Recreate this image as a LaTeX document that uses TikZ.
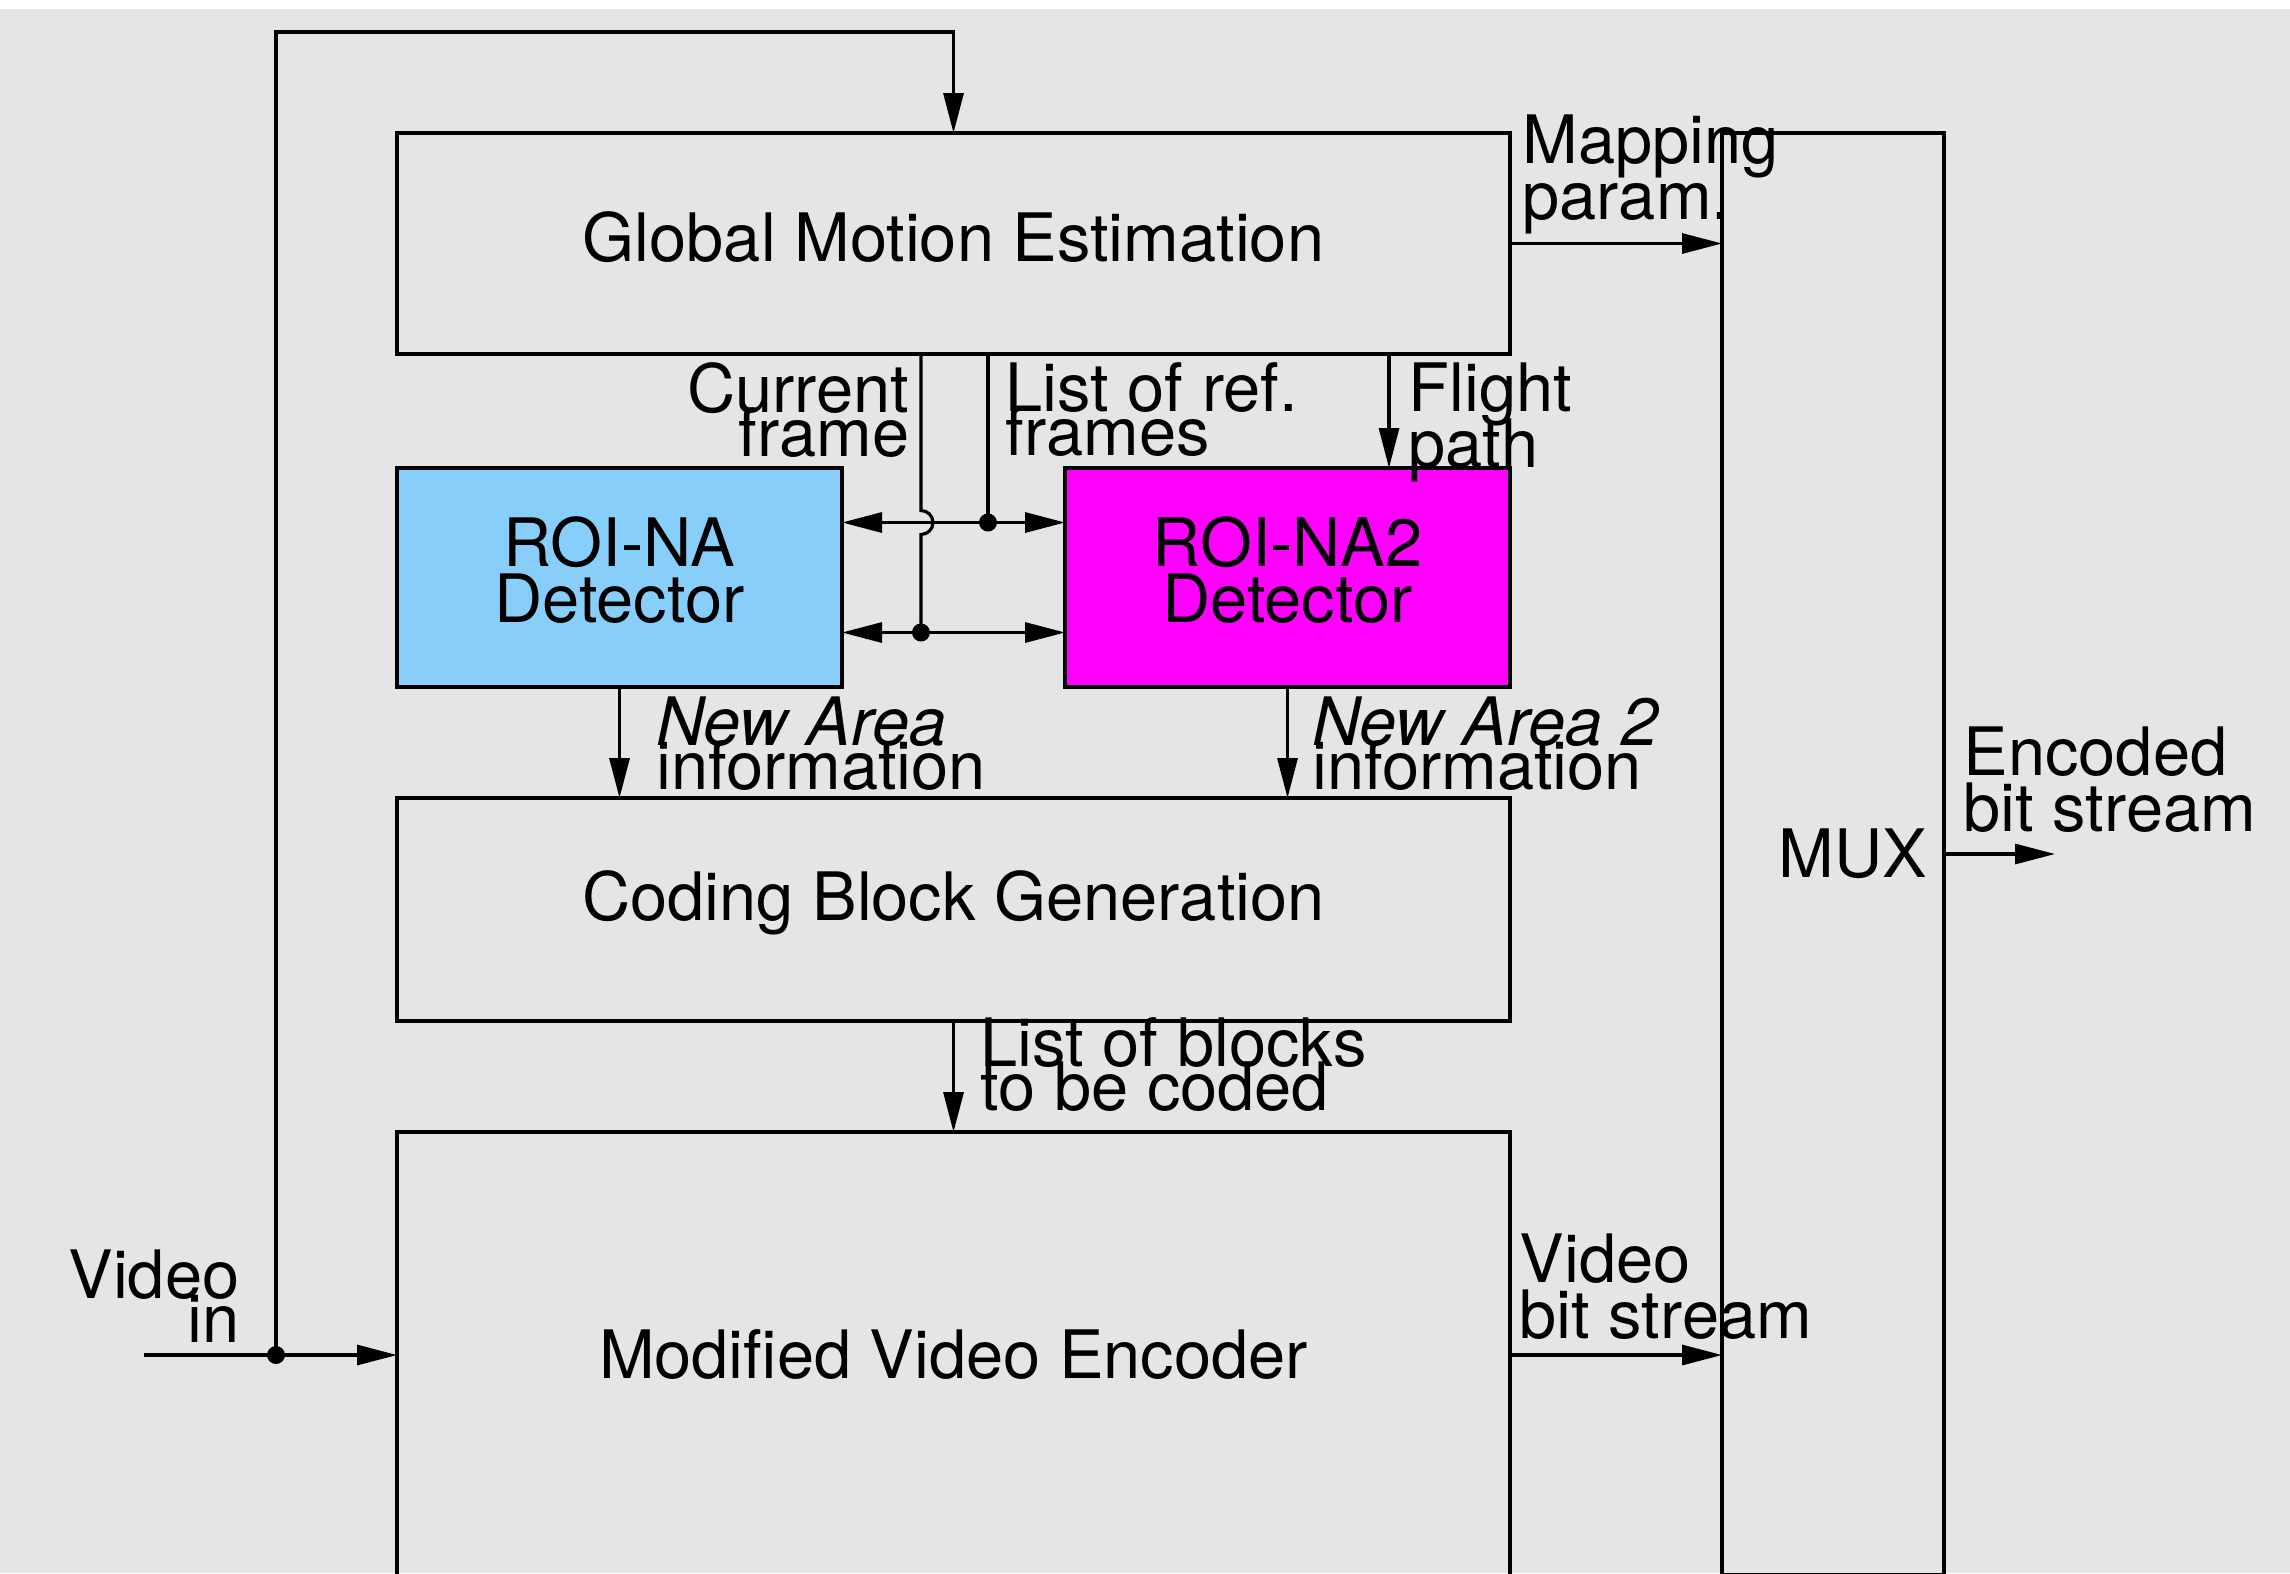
\documentclass[tikz,border=0pt]{standalone}
\usepackage{fontspec}
\setmainfont{TeX Gyre Heros}
\usepackage{tikz}
\usetikzlibrary{arrows.meta, positioning, calc}
\definecolor{bggray}{RGB}{229,229,229}
\definecolor{roiblue}{RGB}{135,206,250}
\definecolor{roipink}{RGB}{255,0,255}
\lineskiplimit=-30pt

\begin{document}
\begin{tikzpicture}[
  font=\fontsize{19}{15.9}\selectfont,
  block/.style={draw, line width=1.1pt, outer sep=0pt, minimum width=11.13cm, minimum height=2.21cm, align=center},
  roi/.style={draw, line width=1.1pt, outer sep=0pt, minimum width=4.45cm, minimum height=2.19cm, align=center, text depth=0.16cm},
  lbl/.style={inner sep=0pt},
  tight/.style={inner sep=0pt, font=\fontsize{19}{12.5}\selectfont},
  arr/.style={-{Triangle[length=4mm, width=2mm]}, line width=0.9pt},
  darr/.style={{Triangle[length=4mm, width=2mm]}-{Triangle[length=4mm, width=2mm]}, line width=0.9pt},
  jdot/.style={circle, fill, inner sep=0pt, minimum size=1.8mm},
]
\fill[bggray] (0,-0.09) rectangle (22.9,-15.73);
\useasboundingbox (0,0) rectangle (22.9,-15.73);

% Blocks
\node[block, text depth=0.13cm] (gme) at (9.535,-2.435) {Global Motion Estimation};
\node[roi, fill=roiblue, below=1.14cm of gme.south west, anchor=north west] (roina) {ROI-NA\\Detector};
\node[roi, fill=roipink, below=1.14cm of gme.south east, anchor=north east] (roina2) {ROI-NA2\\Detector};
\node[block, minimum height=2.23cm, text depth=0.28cm, below=1.11cm of roina.south west, anchor=north west] (cbg) {Coding Block Generation};
\node[block, minimum height=4.46cm, below=1.11cm of cbg] (mve) {Modified Video Encoder};
\node[draw, line width=1.1pt, outer sep=0pt, minimum height=14.42cm, text width=1.88cm, inner xsep=0.17cm, align=right,
  right=2.12cm of gme.north east, anchor=north west] (mux) {MUX};

% Points on the wires
\coordinate (cur) at ($(gme.south west)+(5.24,0)$);
\coordinate (ref) at ($(gme.south west)+(5.91,0)$);
\coordinate (fp) at ($(gme.south west)+(9.92,0)$);
\coordinate (vin) at ($(mve.west)+(-2.53,0)$);
\coordinate (split) at ($(mve.west)+(-1.21,0)$);
\coordinate (looptop) at (2.76,-0.32);
\coordinate (hi) at ($(roina.east)+(0,0.55)$);
\coordinate (lo) at ($(roina.east)+(0,-0.55)$);
\coordinate (out) at ($(mux.east)+(1.11,0)$);

% Connectors
\draw[arr] (vin) -- (mve.west);
\draw[arr] (split) -- (split |- looptop) -| (gme.north);
\node[jdot] (d1) at (split) {};
\draw[arr] (gme.east) -- (gme.east -| mux.west);
\draw[arr] (mve.east) -- (mve.east -| mux.west);
\draw[arr] (mux.east) -- (out);
\draw[darr] (hi) -- (hi -| roina2.west);
\draw[darr] (lo) -- (lo -| roina2.west);
\draw[line width=0.9pt] (ref) -- (ref |- hi);
\node[jdot] (d2) at (ref |- hi) {};
\draw[line width=0.9pt] (cur) -- ($(cur |- hi)+(0,0.12)$) arc[start angle=90, end angle=-90, radius=0.12] -- (cur |- lo);
\node[jdot] (d3) at (cur |- lo) {};
\draw[arr] (fp) -- (fp |- roina2.north);
\draw[arr] (roina.south) -- (roina.south |- cbg.north);
\draw[arr] (roina2.south) -- (roina2.south |- cbg.north);
\draw[arr] (cbg.south) -- (mve.north);

% Labels
\node[lbl, align=left, anchor=south west] (maplbl) at ($(gme.east)+(0.12,0.09)$) {Mapping\\param.};
\node[tight, align=right, anchor=north east] (curlbl) at ($(cur)+(-0.11,-0.08)$) {Current\\frame};
\node[tight, align=left, anchor=north west] (reflbl) at ($(ref)+(0.17,-0.08)$) {List of ref.\\frames};
\node[lbl, align=left, anchor=north west] (fplbl) at ($(fp)+(0.19,-0.08)$) {Flight\\path};
\node[tight, align=left, anchor=north west] (nalbl) at ($(roina.south)+(0.36,-0.09)$) {\textit{New Area}\\information};
\node[tight, align=left, anchor=north west] (na2lbl) at ($(roina2.south)+(0.24,-0.09)$) {\textit{New Area 2}\\information};
\node[tight, align=left, anchor=north west] (blklbl) at ($(cbg.south)+(0.265,0.04)$) {List of blocks\\to be coded};
\node[tight, align=right, anchor=south east] (vinlbl) at ($(split)+(-0.36,0.12)$) {Video\\in};
\node[lbl, align=left, anchor=south west] (vbslbl) at ($(mve.east)+(0.09,0.15)$) {Video\\bit stream};
\node[lbl, align=left, anchor=south west] (enclbl) at ($(mux.east)+(0.19,0.21)$) {Encoded\\bit stream};
\end{tikzpicture}
\end{document}
